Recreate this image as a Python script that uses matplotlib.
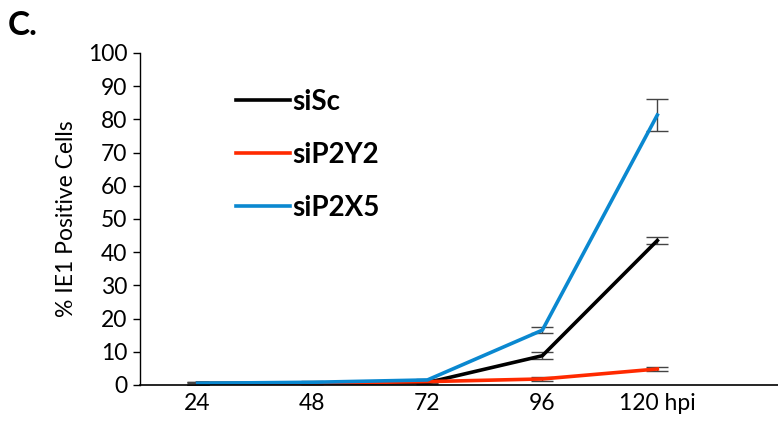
import matplotlib
matplotlib.use("Agg")
import matplotlib.pyplot as plt

plt.rcParams['font.family'] = ['Lato', 'DejaVu Sans']

hours = ["24", "48", "72", "96", "120 hpi"]
sisc = [0.5, 0.5, 0.7, 8.8, 43.5]
sisc_err = [0.4, 0.3, 0.3, 1.0, 1.0]
sip2y2 = [0.3, 0.5, 1.0, 1.8, 4.8]
sip2y2_err = [0.3, 0.3, 0.3, 0.5, 0.7]
sip2x5 = [0.5, 0.8, 1.5, 16.5, 81.3]
sip2x5_err = [0.4, 0.3, 0.3, 0.8, 4.8]

fig = plt.figure(figsize=(7.78, 4.45), dpi=100)
ax = fig.add_axes([0.18, 0.135, 0.82, 0.746])

x = range(len(hours))
series = [("siSc", sisc, sisc_err, "black"),
          ("siP2Y2", sip2y2, sip2y2_err, "#FF2A00"),
          ("siP2X5", sip2x5, sip2x5_err, "#0A88D0")]
for name, vals, errs, col in series:
    ax.errorbar(x, vals, yerr=errs, fmt='none', ecolor="#444444", elinewidth=1.0,
                capsize=8, capthick=1.0, zorder=1)
    ax.plot(x, vals, color=col, lw=2.6, label=name, zorder=2)

ax.set_xlim(-0.5, 5.05)
ax.set_ylim(0, 100)
ax.set_yticks(range(0, 101, 10))
ax.set_xticks(list(x))
ax.set_xticklabels(hours)
ax.tick_params(axis='x', length=0, pad=6, labelsize=16.5)
ax.tick_params(axis='y', length=5, width=1, pad=4, labelsize=16.5)
for s in ['top', 'right']:
    ax.spines[s].set_visible(False)
ax.spines['left'].set_linewidth(1.0)
ax.spines['bottom'].set_linewidth(1.2)
ax.set_ylabel("% IE1 Positive Cells", fontsize=16.5, labelpad=8)

leg = ax.legend(loc='upper left', bbox_to_anchor=(0.1505, 0.892), frameon=False,
                borderpad=0, borderaxespad=0, handlelength=1.95, handletextpad=0.07,
                labelspacing=0.97, prop={'weight': 'bold', 'size': 20})

fig.text(0.01, 0.921, "C.", fontsize=24, fontweight='bold')

fig.savefig("out.png", dpi=100)
